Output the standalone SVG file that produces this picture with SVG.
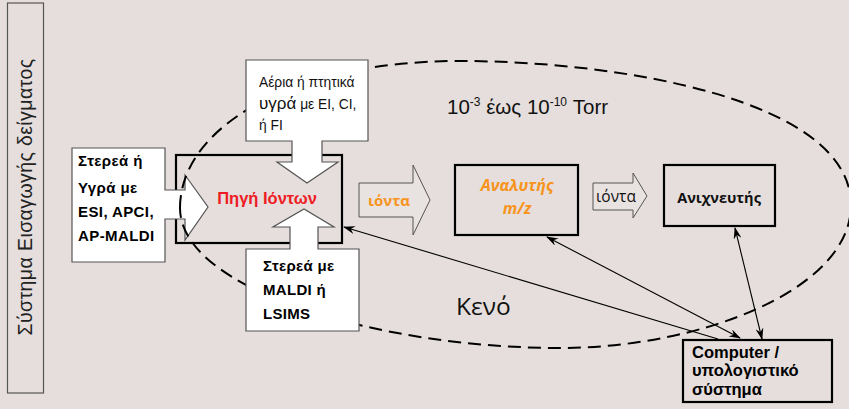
<svg xmlns="http://www.w3.org/2000/svg" width="849" height="409" viewBox="0 0 849 409">
<defs>
<marker id="ah" viewBox="0 0 12 8" refX="11" refY="4" markerWidth="12" markerHeight="8" markerUnits="userSpaceOnUse" orient="auto-start-reverse">
<path d="M0,0 L12,4 L0,8 L4,4 Z" fill="#000"/>
</marker>
<style>
.bg{fill:#e5dedc}
.wbox{fill:#fff;stroke:#555;stroke-width:1.2}
.thick{fill:none;stroke:#000;stroke-width:2.2}
.hollow{fill:#e8e2e0;stroke:#555;stroke-width:1}
.conn{fill:none;stroke:#000;stroke-width:1.1}
.ar{font-family:"Liberation Sans",Arial,sans-serif}
.hum{font-family:"Open Sans","Noto Sans",sans-serif}
.b{font-weight:bold}
</style>
</defs>
<rect class="bg" x="0" y="0" width="849" height="409"/>

<g id="sample-intro">
<rect x="7.5" y="3" width="36" height="390" fill="none" stroke="#555" stroke-width="1.2"/>
<text class="ar" x="0" y="0" font-size="19.5" letter-spacing="0.4" text-anchor="middle" transform="translate(32,197) rotate(-90)" fill="#222">Σύστημα Εισαγωγής δείγματος</text>
</g>

<g id="ion-source">
<rect class="thick" x="176" y="155" width="166" height="88"/>
<text class="ar b" x="267" y="204" font-size="16.5" text-anchor="middle" fill="#ee1c24">Πηγή Ιόντων</text>
</g>

<g id="liquid-input">
<path class="wbox" d="M72,148 H165 V190 H185 V175 L208,207 L185,240 V219 H165 V262 H72 Z"/>
<text class="ar b" font-size="15" letter-spacing="0.4" fill="#000"><tspan x="78" y="166">Στερεά ή</tspan><tspan x="78" y="193">Υγρά με</tspan><tspan x="78" y="217">ESI, APCI,</tspan><tspan x="78" y="241">AP-MALDI</tspan></text>
</g>

<g id="vacuum">
<path d="M180,208 C180,128 290,61 460,61 C620,61 851,100 851,205 C851,290 700,348 560,348 C380,348 180,290 180,208 Z" fill="none" stroke="#000" stroke-width="2" stroke-dasharray="13,7"/>
<text class="ar" x="447" y="114" font-size="20.5" fill="#111">10<tspan font-size="12" dy="-8">-3</tspan><tspan dy="8"> έως 10</tspan><tspan font-size="12" dy="-8">-10</tspan><tspan dy="8"> Torr</tspan></text>
<text class="hum" x="456" y="315" font-size="24.5" fill="#111">Κενό</text>
</g>

<g id="gas-input">
<path class="wbox" d="M246,60 H368 V141 H322 V162 H338 L307,183 L277,162 H292 V141 H246 Z"/>
<text class="ar" font-size="13.8" fill="#111"><tspan x="259" y="87">Αέρια ή πτητικά</tspan><tspan x="259" y="109"><tspan font-size="17">υγρά</tspan> με EI, CI,</tspan><tspan x="259" y="130">ή FI</tspan></text>
</g>

<g id="solid-input">
<path class="wbox" d="M246,249 H290 V227 H273 L304,209 L334,227 H318 V249 H359 V331 H246 Z"/>
<text class="ar b" font-size="15" letter-spacing="0.3" fill="#000"><tspan x="263" y="271">Στερεά με</tspan><tspan x="263" y="295">MALDI ή</tspan><tspan x="263" y="319">LSIMS</tspan></text>
</g>

<g id="ions-arrow-1">
<path class="hollow" d="M359,183 H413 V165 L430,200 L413,235 V217 H359 Z"/>
<text class="hum b" x="389" y="206" font-size="15" text-anchor="middle" fill="#f7941d">ιόντα</text>
</g>

<g id="analyzer">
<rect class="thick" x="455" y="165" width="123" height="70"/>
<text class="hum b" x="517" y="191" font-size="16" font-style="italic" text-anchor="middle" fill="#f7941d">Αναλυτής</text>
<text class="hum b" x="517" y="214" font-size="16" font-style="italic" text-anchor="middle" fill="#f7941d">m/z</text>
</g>

<g id="ions-arrow-2">
<path class="hollow" d="M593,183 H633 V173 L647,196 L633,218 V210 H593 Z"/>
<text class="hum" x="616" y="202" font-size="15.5" text-anchor="middle" fill="#111">ιόντα</text>
</g>

<g id="detector">
<rect class="thick" x="664" y="165" width="111" height="61"/>
<text class="hum b" x="719" y="203" font-size="14.5" text-anchor="middle" fill="#111">Ανιχνευτής</text>
</g>

<g id="computer">
<rect class="thick" x="683" y="340" width="149" height="62"/>
<text class="ar b" font-size="16.5" fill="#000"><tspan x="692" y="358">Computer /</tspan><tspan x="692" y="376">υπολογιστικό</tspan><tspan x="692" y="395">σύστημα</tspan></text>
</g>

<g id="connectors">
<line class="conn" x1="718" y1="339" x2="344" y2="227" marker-end="url(#ah)"/>
<line class="conn" x1="740" y1="338" x2="547" y2="237" marker-start="url(#ah)" marker-end="url(#ah)"/>
<line class="conn" x1="762" y1="339" x2="735" y2="228" marker-start="url(#ah)" marker-end="url(#ah)"/>
</g>
</svg>
